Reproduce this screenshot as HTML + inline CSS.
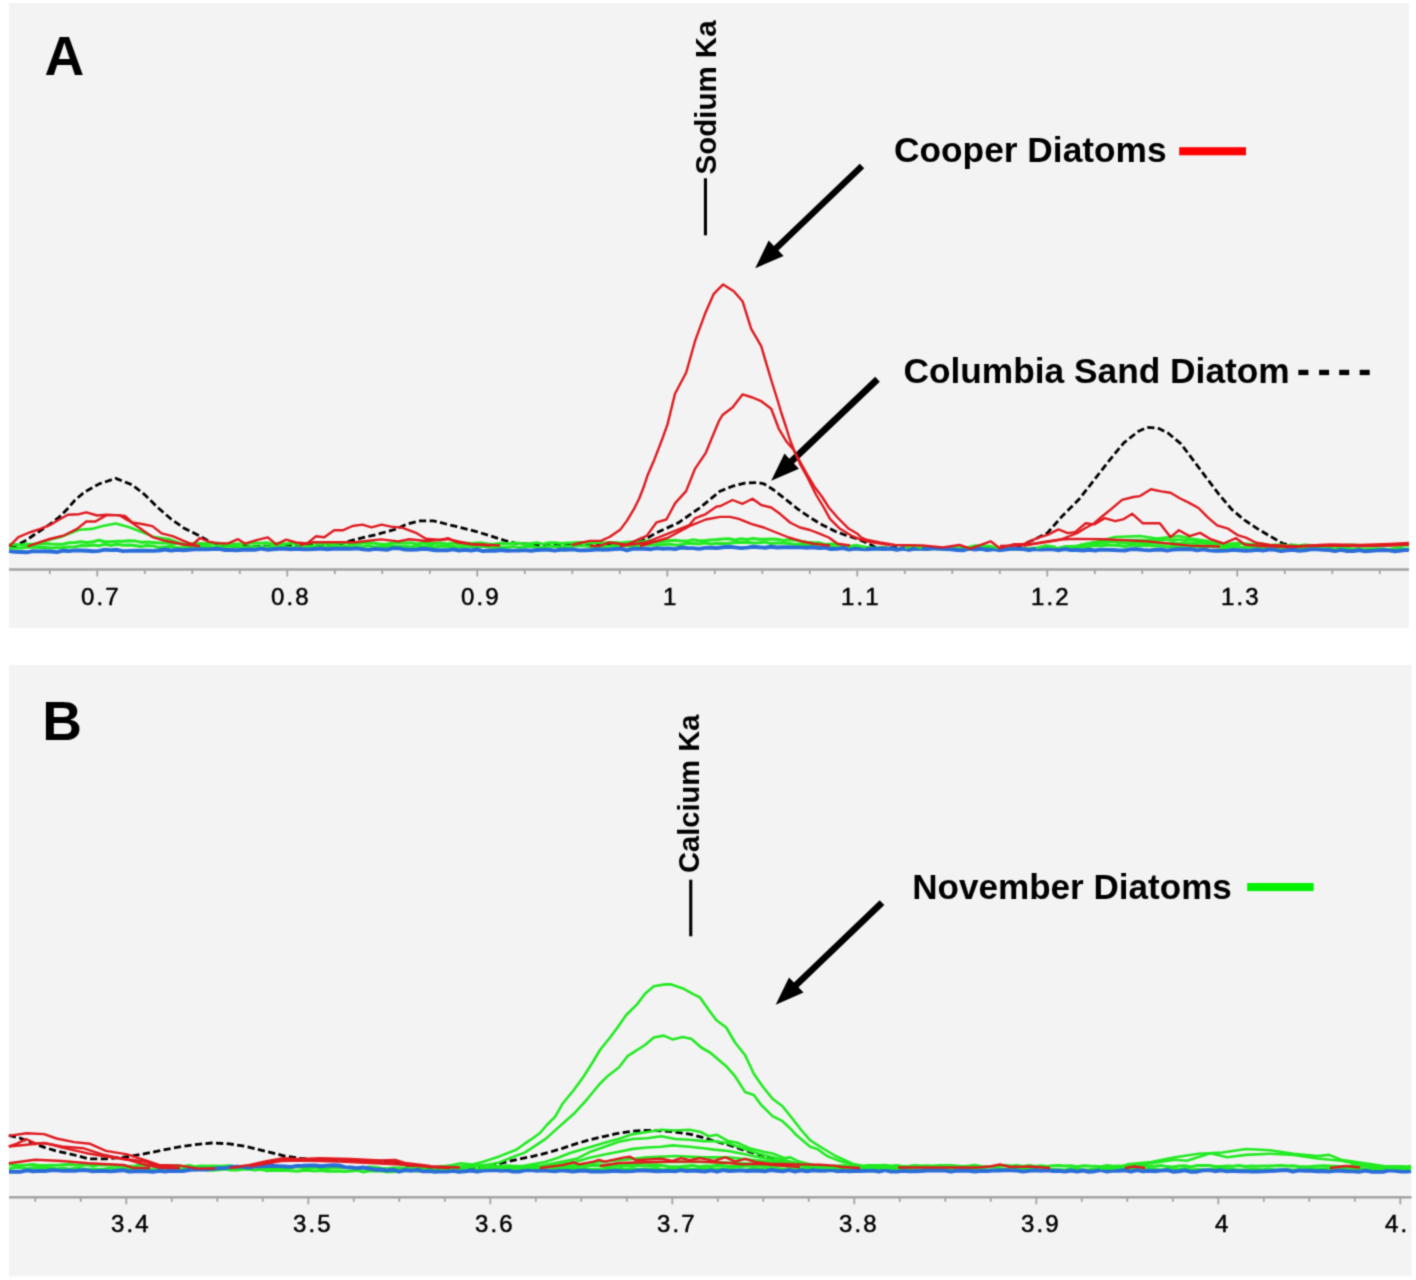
<!DOCTYPE html>
<html><head><meta charset="utf-8"><title>EDS spectra</title>
<style>
html,body{margin:0;padding:0;background:#fff;}
svg{display:block;}
text{font-family:"Liberation Sans",sans-serif;}
.tick{font-size:24px;fill:#000;letter-spacing:2px;stroke:#000;stroke-width:0.5px;}
.big{font-size:55px;font-weight:bold;fill:#000;}
.el{font-size:29.5px;font-weight:bold;fill:#000;}
.lg{font-size:35.3px;font-weight:bold;fill:#000;}
</style></head><body>
<svg width="1416" height="1280" viewBox="0 0 1416 1280">
<defs><filter id="bl" x="0" y="0" width="1416" height="1280" filterUnits="userSpaceOnUse" color-interpolation-filters="sRGB"><feConvolveMatrix order="3" kernelMatrix="0.0324 0.1152 0.0324 0.1152 0.4096 0.1152 0.0324 0.1152 0.0324" edgeMode="duplicate"/></filter><clipPath id="cb"><rect x="9" y="0" width="1401.3" height="1280"/></clipPath></defs>
<g filter="url(#bl)">
<rect x="0" y="0" width="1416" height="1280" fill="#fff"/>
<rect x="9" y="3" width="1400" height="625" fill="#f3f3f3"/>
<rect x="9" y="665" width="1402.5" height="611.3" fill="#f3f3f3"/>
<rect x="9.0" y="568.25" width="1400.0" height="2.5" fill="#a3a3a3"/>
<rect x="48.9" y="569.50" width="1.8" height="4.5" fill="#a3a3a3"/>
<rect x="96.4" y="569.50" width="1.8" height="7.0" fill="#a3a3a3"/>
<rect x="143.9" y="569.50" width="1.8" height="4.5" fill="#a3a3a3"/>
<rect x="191.4" y="569.50" width="1.8" height="4.5" fill="#a3a3a3"/>
<rect x="238.9" y="569.50" width="1.8" height="4.5" fill="#a3a3a3"/>
<rect x="286.4" y="569.50" width="1.8" height="7.0" fill="#a3a3a3"/>
<rect x="333.9" y="569.50" width="1.8" height="4.5" fill="#a3a3a3"/>
<rect x="381.4" y="569.50" width="1.8" height="4.5" fill="#a3a3a3"/>
<rect x="428.9" y="569.50" width="1.8" height="4.5" fill="#a3a3a3"/>
<rect x="476.4" y="569.50" width="1.8" height="7.0" fill="#a3a3a3"/>
<rect x="523.9" y="569.50" width="1.8" height="4.5" fill="#a3a3a3"/>
<rect x="571.4" y="569.50" width="1.8" height="4.5" fill="#a3a3a3"/>
<rect x="618.9" y="569.50" width="1.8" height="4.5" fill="#a3a3a3"/>
<rect x="666.4" y="569.50" width="1.8" height="7.0" fill="#a3a3a3"/>
<rect x="713.9" y="569.50" width="1.8" height="4.5" fill="#a3a3a3"/>
<rect x="761.4" y="569.50" width="1.8" height="4.5" fill="#a3a3a3"/>
<rect x="808.9" y="569.50" width="1.8" height="4.5" fill="#a3a3a3"/>
<rect x="856.4" y="569.50" width="1.8" height="7.0" fill="#a3a3a3"/>
<rect x="903.9" y="569.50" width="1.8" height="4.5" fill="#a3a3a3"/>
<rect x="951.4" y="569.50" width="1.8" height="4.5" fill="#a3a3a3"/>
<rect x="998.9" y="569.50" width="1.8" height="4.5" fill="#a3a3a3"/>
<rect x="1046.4" y="569.50" width="1.8" height="7.0" fill="#a3a3a3"/>
<rect x="1093.9" y="569.50" width="1.8" height="4.5" fill="#a3a3a3"/>
<rect x="1141.4" y="569.50" width="1.8" height="4.5" fill="#a3a3a3"/>
<rect x="1188.9" y="569.50" width="1.8" height="4.5" fill="#a3a3a3"/>
<rect x="1236.4" y="569.50" width="1.8" height="7.0" fill="#a3a3a3"/>
<rect x="1283.9" y="569.50" width="1.8" height="4.5" fill="#a3a3a3"/>
<rect x="1331.4" y="569.50" width="1.8" height="4.5" fill="#a3a3a3"/>
<rect x="1378.9" y="569.50" width="1.8" height="4.5" fill="#a3a3a3"/>
<text x="100.8" y="605.0" text-anchor="middle" class="tick" clip-path="url(#cb)">0.7</text>
<text x="290.8" y="605.0" text-anchor="middle" class="tick" clip-path="url(#cb)">0.8</text>
<text x="480.8" y="605.0" text-anchor="middle" class="tick" clip-path="url(#cb)">0.9</text>
<text x="670.8" y="605.0" text-anchor="middle" class="tick" clip-path="url(#cb)">1</text>
<text x="860.8" y="605.0" text-anchor="middle" class="tick" clip-path="url(#cb)">1.1</text>
<text x="1050.8" y="605.0" text-anchor="middle" class="tick" clip-path="url(#cb)">1.2</text>
<text x="1240.8" y="605.0" text-anchor="middle" class="tick" clip-path="url(#cb)">1.3</text>
<polygon points="859.8,163.7 773.9,245.9 768.7,240.5 755.2,268.3 783.6,256.0 778.4,250.6 864.2,168.3" fill="#000"/>
<polygon points="875.2,376.7 789.3,458.7 784.5,453.6 771.2,480.7 798.9,468.7 794.0,463.6 879.8,381.7" fill="#000"/>
<polyline points="10.0,547.0 17.0,545.2 25.4,540.7 33.9,535.0 42.0,529.5 50.8,523.7 59.3,517.0 67.8,508.5 75.1,500.0 84.5,492.1 99.2,483.9 115.7,478.4 132.2,484.8 145.0,494.9 157.9,507.7 170.8,518.8 183.6,527.9 198.3,535.3 211.2,542.6 220.3,545.4 240.0,546.5 290.0,546.0 338.4,544.4 355.4,539.4 376.6,534.5 394.7,529.5 407.5,524.0 420.4,520.8 433.2,520.8 446.1,524.0 460.8,527.6 475.5,531.3 490.2,535.9 504.9,540.5 515.9,543.3 540.0,545.0 620.0,545.0 641.2,541.4 656.6,532.7 678.4,522.8 700.3,507.5 720.0,491.2 732.5,486.2 745.0,483.1 757.5,482.5 763.8,483.8 773.8,490.0 785.0,498.8 797.5,508.8 810.0,517.5 822.5,525.0 835.0,531.2 845.0,535.0 857.5,538.8 866.0,542.5 876.0,547.5 1005.0,549.0 1015.0,548.0 1020.0,545.6 1032.7,540.3 1047.5,532.9 1062.4,515.9 1079.3,499.0 1094.2,479.9 1109.0,460.8 1123.8,442.8 1138.6,431.2 1147.1,427.4 1157.7,428.0 1168.3,433.3 1181.0,443.9 1193.7,460.8 1206.4,477.8 1219.2,494.7 1231.9,509.6 1244.6,520.2 1257.3,528.6 1270.0,536.1 1282.7,543.5 1293.3,545.6 1310.0,546.5" fill="none" stroke="#000" stroke-width="2.8" stroke-linejoin="round" stroke-dasharray="7.2 3.4"/>
<polyline points="9.0,544.4 15.0,544.5 21.0,545.1 27.0,544.3 33.0,544.3 39.0,544.3 45.0,543.6 51.0,544.1 57.0,544.2 63.0,544.2 69.0,542.7 75.0,542.6 81.0,541.8 87.0,542.5 93.0,541.8 99.0,540.3 105.0,541.8 111.0,541.7 117.0,541.2 123.0,541.2 129.0,540.7 135.0,540.9 141.0,542.2 147.0,541.9 153.0,542.5 159.0,543.0 165.0,542.7 171.0,543.4 177.0,543.4 183.0,544.0 189.0,543.5 195.0,543.7 201.0,543.5 207.0,543.8 213.0,543.4 219.0,543.1 225.0,544.3 231.0,544.3 237.0,544.0 243.0,543.8 249.0,543.2 255.0,543.1 261.0,543.2 267.0,542.8 273.0,543.9 279.0,543.3 285.0,544.1 291.0,543.3 297.0,544.2 303.0,544.1 309.0,542.7 315.0,543.0 321.0,544.2 327.0,543.5 333.0,544.3 339.0,543.3 345.0,542.8 351.0,543.7 357.0,543.9 363.0,543.1 369.0,542.8 375.0,543.2 381.0,544.2 387.0,543.9 393.0,542.9 399.0,543.1 405.0,542.9 411.0,542.8 417.0,544.0 423.0,543.0 429.0,543.6 435.0,543.4 441.0,543.0 447.0,543.9 453.0,542.9 459.0,543.7 465.0,542.9 471.0,543.4 477.0,543.0 483.0,543.1 489.0,544.3 495.0,544.0 501.0,543.2 507.0,544.1 513.0,543.0 519.0,543.2 525.0,543.9 531.0,543.6 537.0,542.7 543.0,544.1 549.0,542.8 555.0,542.8 561.0,543.6 567.0,542.9 573.0,542.8 579.0,542.4 585.0,542.4 591.0,543.2 597.0,542.6 603.0,543.1 609.0,542.5 615.0,542.5 621.0,543.1 627.0,542.2 633.0,542.1 639.0,542.4 645.0,541.1 651.0,540.9 657.0,541.9 663.0,541.6 669.0,540.5 675.0,540.3 681.0,541.0 687.0,541.1 693.0,539.7 699.0,540.8 705.0,540.5 711.0,539.9 717.0,539.5 723.0,538.9 729.0,538.7 735.0,540.0 741.0,538.8 747.0,539.4 753.0,538.6 759.0,539.3 765.0,539.2 771.0,539.1 777.0,539.2 783.0,540.4 789.0,539.7 795.0,540.3 801.0,541.2 807.0,542.3 813.0,542.6 819.0,542.7 825.0,544.4 831.0,543.9 837.0,544.3 843.0,545.4 849.0,546.3 855.0,546.1 861.0,546.7 867.0,547.4 873.0,548.1 879.0,547.8 885.0,548.3 891.0,549.1 897.0,549.3 903.0,548.8 909.0,548.8 915.0,548.6 921.0,547.9 927.0,547.8 933.0,547.7 939.0,549.2 945.0,548.8 951.0,549.2 957.0,547.7 963.0,548.7 969.0,548.5 975.0,548.9 981.0,548.2 987.0,549.3 993.0,547.8 999.0,548.6 1005.0,548.9 1011.0,549.1 1017.0,548.9 1023.0,548.8 1029.0,549.0 1035.0,549.2 1041.0,548.3 1047.0,548.8 1053.0,548.8 1059.0,548.0 1065.0,546.6 1071.0,546.5 1077.0,545.9 1083.0,544.7 1089.0,543.8 1095.0,542.6 1101.0,542.1 1107.0,542.3 1113.0,541.5 1119.0,542.5 1125.0,543.1 1131.0,543.1 1137.0,542.9 1143.0,542.4 1149.0,543.1 1155.0,542.9 1161.0,542.8 1167.0,543.5 1173.0,542.4 1179.0,543.5 1185.0,542.5 1191.0,543.5 1197.0,543.4 1203.0,543.0 1209.0,543.9 1215.0,543.6 1221.0,543.9 1227.0,544.5 1233.0,543.5 1239.0,543.2 1245.0,543.8 1251.0,544.6 1257.0,543.9 1263.0,544.0 1269.0,545.4 1275.0,545.1 1281.0,544.9 1287.0,545.8 1293.0,545.0 1299.0,545.7 1305.0,545.0 1311.0,545.4 1317.0,546.0 1323.0,546.2 1329.0,546.1 1335.0,545.3 1341.0,545.6 1347.0,545.2 1353.0,544.9 1359.0,545.5 1365.0,546.0 1371.0,546.1 1377.0,545.8 1383.0,546.2 1389.0,545.1 1395.0,545.0 1401.0,545.4 1407.0,545.1 1409.0,545.5" fill="none" stroke="#22ea22" stroke-width="3" stroke-linejoin="round"/>
<polyline points="9.0,548.0 15.0,548.2 21.0,548.1 27.0,547.3 33.0,547.0 39.0,547.5 45.0,547.3 51.0,548.1 57.0,547.8 63.0,547.5 69.0,547.0 75.0,546.8 81.0,545.6 87.0,545.7 93.0,544.9 99.0,545.7 105.0,544.3 111.0,545.5 117.0,544.3 123.0,545.3 129.0,545.0 135.0,545.4 141.0,546.5 147.0,545.5 153.0,545.9 159.0,547.6 165.0,547.0 171.0,546.3 177.0,547.7 183.0,547.7 189.0,546.3 195.0,546.8 201.0,546.3 207.0,546.6 213.0,547.1 219.0,546.3 225.0,547.2 231.0,546.1 237.0,546.3 243.0,547.3 249.0,546.7 255.0,546.7 261.0,546.9 267.0,546.7 273.0,546.6 279.0,546.0 285.0,547.1 291.0,547.5 297.0,547.5 303.0,547.0 309.0,546.5 315.0,546.5 321.0,547.0 327.0,546.9 333.0,546.0 339.0,546.2 345.0,546.4 351.0,546.6 357.0,547.1 363.0,546.6 369.0,545.8 375.0,547.1 381.0,546.4 387.0,546.6 393.0,546.1 399.0,546.4 405.0,546.3 411.0,547.0 417.0,545.9 423.0,546.7 429.0,546.1 435.0,547.0 441.0,546.0 447.0,546.4 453.0,546.5 459.0,547.0 465.0,546.1 471.0,546.8 477.0,546.4 483.0,546.6 489.0,546.9 495.0,547.7 501.0,547.0 507.0,547.7 513.0,546.4 519.0,547.6 525.0,546.7 531.0,546.3 537.0,547.2 543.0,547.4 549.0,546.0 555.0,546.4 561.0,547.1 567.0,546.4 573.0,546.2 579.0,545.8 585.0,545.8 591.0,546.7 597.0,547.3 603.0,547.2 609.0,546.2 615.0,545.3 621.0,545.6 627.0,546.1 633.0,546.0 639.0,545.6 645.0,544.7 651.0,545.0 657.0,544.8 663.0,544.8 669.0,544.1 675.0,545.0 681.0,544.7 687.0,543.3 693.0,543.4 699.0,544.1 705.0,543.1 711.0,544.0 717.0,543.2 723.0,543.4 729.0,543.3 735.0,542.5 741.0,542.5 747.0,542.3 753.0,542.9 759.0,542.8 765.0,542.1 771.0,543.5 777.0,543.0 783.0,542.9 789.0,543.5 795.0,544.6 801.0,544.2 807.0,544.8 813.0,545.8 819.0,546.4 825.0,546.7 831.0,546.7 837.0,547.5 843.0,548.5 849.0,548.9 855.0,548.6 861.0,548.3 867.0,548.3 873.0,548.9 879.0,548.7 885.0,547.8 891.0,548.9 897.0,549.3 903.0,549.1 909.0,549.3 915.0,549.3 921.0,548.7 927.0,549.2 933.0,548.5 939.0,548.1 945.0,548.5 951.0,548.5 957.0,549.5 963.0,549.1 969.0,548.9 975.0,549.0 981.0,548.2 987.0,548.9 993.0,549.2 999.0,548.7 1005.0,548.5 1011.0,548.8 1017.0,548.6 1023.0,549.2 1029.0,548.4 1035.0,548.3 1041.0,548.7 1047.0,549.3 1053.0,549.3 1059.0,548.8 1065.0,548.9 1071.0,547.7 1077.0,546.9 1083.0,547.2 1089.0,546.5 1095.0,545.5 1101.0,545.8 1107.0,545.3 1113.0,545.2 1119.0,545.4 1125.0,546.5 1131.0,545.0 1137.0,545.7 1143.0,545.6 1149.0,545.5 1155.0,546.0 1161.0,545.7 1167.0,546.9 1173.0,546.3 1179.0,546.7 1185.0,545.9 1191.0,546.4 1197.0,546.7 1203.0,547.2 1209.0,546.3 1215.0,546.7 1221.0,547.4 1227.0,547.4 1233.0,546.5 1239.0,547.1 1245.0,547.5 1251.0,547.1 1257.0,547.7 1263.0,547.8 1269.0,548.5 1275.0,548.0 1281.0,548.3 1287.0,547.9 1293.0,548.7 1299.0,548.2 1305.0,548.5 1311.0,548.3 1317.0,548.3 1323.0,548.0 1329.0,548.2 1335.0,548.7 1341.0,548.3 1347.0,548.0 1353.0,549.2 1359.0,548.4 1365.0,549.5 1371.0,549.0 1377.0,548.7 1383.0,549.5 1389.0,549.5 1395.0,548.6 1401.0,548.4 1407.0,549.2 1409.0,549.0" fill="none" stroke="#22ea22" stroke-width="3" stroke-linejoin="round"/>
<polyline points="9.0,551.1 15.0,551.9 21.0,552.0 27.0,552.3 33.0,551.2 39.0,551.4 45.0,551.3 51.0,551.5 57.0,552.1 63.0,550.7 69.0,551.1 75.0,550.4 81.0,550.5 87.0,550.7 93.0,551.3 99.0,550.9 105.0,549.7 111.0,550.1 117.0,549.8 123.0,551.1 129.0,550.9 135.0,550.8 141.0,550.8 147.0,550.6 153.0,550.9 159.0,550.5 165.0,549.5 171.0,550.5 177.0,549.7 183.0,550.2 189.0,549.7 195.0,549.4 201.0,549.3 207.0,549.4 213.0,549.1 219.0,548.8 225.0,550.0 231.0,550.0 237.0,550.3 243.0,549.7 249.0,549.5 255.0,549.8 261.0,548.7 267.0,549.7 273.0,549.2 279.0,548.7 285.0,548.8 291.0,549.3 297.0,548.8 303.0,549.2 309.0,549.4 315.0,549.0 321.0,548.5 327.0,549.2 333.0,548.7 339.0,548.7 345.0,548.6 351.0,548.9 357.0,548.3 363.0,549.4 369.0,549.9 375.0,548.9 381.0,549.4 387.0,549.8 393.0,548.2 399.0,548.4 405.0,549.6 411.0,549.8 417.0,549.5 423.0,548.7 429.0,549.3 435.0,550.2 441.0,550.3 447.0,550.3 453.0,549.3 459.0,550.5 465.0,549.7 471.0,550.5 477.0,549.5 483.0,551.1 489.0,550.5 495.0,550.8 501.0,550.0 507.0,550.7 513.0,550.6 519.0,550.6 525.0,550.1 531.0,550.8 537.0,550.0 543.0,549.9 549.0,549.7 555.0,550.6 561.0,549.5 567.0,549.7 573.0,549.4 579.0,550.4 585.0,550.2 591.0,550.1 597.0,549.2 603.0,549.8 609.0,549.5 615.0,549.0 621.0,548.7 627.0,550.4 633.0,548.7 639.0,548.9 645.0,548.7 651.0,549.2 657.0,548.1 663.0,548.7 669.0,548.4 675.0,549.1 681.0,547.5 687.0,548.0 693.0,548.1 699.0,548.9 705.0,547.9 711.0,547.8 717.0,548.0 723.0,547.3 729.0,546.7 735.0,547.4 741.0,548.1 747.0,547.6 753.0,546.7 759.0,547.3 765.0,547.7 771.0,546.8 777.0,547.5 783.0,547.3 789.0,547.2 795.0,547.4 801.0,547.4 807.0,547.8 813.0,547.3 819.0,548.1 825.0,547.7 831.0,549.0 837.0,548.9 843.0,548.0 849.0,549.5 855.0,548.5 861.0,549.0 867.0,549.2 873.0,548.8 879.0,548.7 885.0,549.0 891.0,548.5 897.0,549.8 903.0,548.5 909.0,549.8 915.0,548.7 921.0,548.9 927.0,549.1 933.0,548.4 939.0,548.6 945.0,549.1 951.0,549.2 957.0,550.0 963.0,550.3 969.0,548.6 975.0,549.5 981.0,548.8 987.0,550.0 993.0,549.2 999.0,550.2 1005.0,549.6 1011.0,548.9 1017.0,548.7 1023.0,549.1 1029.0,550.2 1035.0,549.0 1041.0,549.6 1047.0,549.4 1053.0,549.4 1059.0,550.2 1065.0,549.1 1071.0,550.1 1077.0,550.0 1083.0,550.5 1089.0,549.8 1095.0,550.5 1101.0,549.6 1107.0,549.9 1113.0,550.0 1119.0,550.4 1125.0,550.5 1131.0,549.1 1137.0,549.2 1143.0,549.9 1149.0,550.4 1155.0,549.9 1161.0,549.5 1167.0,550.7 1173.0,549.6 1179.0,549.2 1185.0,549.2 1191.0,549.1 1197.0,550.4 1203.0,549.3 1209.0,550.4 1215.0,550.7 1221.0,550.9 1227.0,550.6 1233.0,549.9 1239.0,550.3 1245.0,550.7 1251.0,550.5 1257.0,549.8 1263.0,550.6 1269.0,549.5 1275.0,549.8 1281.0,551.1 1287.0,550.2 1293.0,549.8 1299.0,550.7 1305.0,550.2 1311.0,549.4 1317.0,549.4 1323.0,549.9 1329.0,550.0 1335.0,551.1 1341.0,549.9 1347.0,551.0 1353.0,551.0 1359.0,550.2 1365.0,551.3 1371.0,550.9 1377.0,550.4 1383.0,550.0 1389.0,550.4 1395.0,551.2 1401.0,550.5 1407.0,549.9 1409.0,550.5" fill="none" stroke="#2a6cd8" stroke-width="3.9" stroke-linejoin="round"/>
<polyline points="27.5,546.3 45.9,540.8 60.6,537.1 79.0,529.8 91.8,528.9 102.8,526.1 115.7,523.4 128.5,527.0 143.2,532.5 154.2,537.1 168.9,539.0 183.6,544.5 200.0,545.5" fill="none" stroke="#22ea22" stroke-width="2.6" stroke-linejoin="round"/>
<polyline points="1080.0,545.0 1100.0,541.0 1115.0,537.0 1140.0,536.0 1157.0,538.5 1179.0,536.0 1190.8,538.5 1207.8,541.0 1220.5,544.4 1240.0,545.5" fill="none" stroke="#22ea22" stroke-width="2.6" stroke-linejoin="round"/>
<polyline points="1090.0,545.0 1120.0,540.0 1150.0,540.0 1180.0,539.5 1200.0,541.0 1230.0,545.0" fill="none" stroke="#22ea22" stroke-width="2.6" stroke-linejoin="round"/>
<polyline points="848.0,547.0 856.0,545.0 866.0,547.5" fill="none" stroke="#22ea22" stroke-width="2.6" stroke-linejoin="round"/>
<polyline points="905.0,548.0 913.0,545.5 922.0,548.0" fill="none" stroke="#22ea22" stroke-width="2.6" stroke-linejoin="round"/>
<polyline points="965.0,548.0 975.0,545.5 990.0,546.0 998.0,548.0" fill="none" stroke="#22ea22" stroke-width="2.6" stroke-linejoin="round"/>
<polyline points="1036.0,548.0 1046.0,545.5 1056.0,547.0" fill="none" stroke="#22ea22" stroke-width="2.6" stroke-linejoin="round"/>
<polyline points="9.2,546.3 18.4,537.1 29.4,532.5 40.4,528.9 51.4,524.3 60.6,518.8 67.9,514.7 79.0,514.2 86.3,512.3 97.3,515.5 106.5,514.7 115.7,515.1 124.9,516.0 132.2,522.4 143.2,524.3 152.4,526.1 161.6,533.4 172.6,536.2 183.6,540.8 192.8,544.5 200.0,538.0 208.5,541.6 218.4,543.4 228.2,543.4 238.1,539.2 245.2,543.7 256.5,540.1 267.8,537.3 276.3,544.4 286.2,539.7 296.0,542.5 307.3,543.4 315.8,536.3 324.3,537.3 334.2,530.3 342.7,530.3 352.5,526.0 362.4,524.6 371.6,527.4 381.5,524.6 391.0,526.7 402.0,527.6 416.7,533.2 425.9,538.7 440.6,540.0 447.9,538.1 457.1,542.3 471.8,544.2 490.0,545.5" fill="none" stroke="#e01a20" stroke-width="2.4" stroke-linejoin="round"/>
<polyline points="572.0,545.0 580.0,543.0 589.8,540.9 600.8,540.9 609.5,537.0 620.5,529.4 627.0,520.6 633.6,509.7 639.1,498.8 643.4,487.8 647.8,474.7 654.4,459.4 662.0,439.7 667.5,424.4 675.0,393.8 686.2,372.5 695.0,341.2 705.0,313.8 713.8,293.8 723.1,284.4 733.8,291.2 742.5,301.2 751.2,328.8 761.2,346.2 771.2,380.0 777.5,400.0 781.2,412.5 786.2,427.5 790.0,440.0 795.0,452.5 801.2,463.8 807.5,475.0 815.0,487.5 822.5,497.5 828.8,507.5 837.5,517.5 848.8,528.8 857.5,533.8 861.2,537.5 867.5,540.0 880.0,542.5 895.0,545.0 922.6,545.5 942.8,547.4 959.4,545.0 970.4,548.7 990.6,541.3 999.7,548.1 1014.4,544.1 1023.6,544.1 1038.3,537.6 1047.5,534.9 1058.5,529.4 1067.7,533.1 1075.0,532.1 1085.7,523.3 1094.2,524.4 1104.7,518.1 1115.3,521.2 1123.8,519.1 1132.3,513.8 1142.9,523.3 1159.8,523.3 1170.4,537.1 1178.9,530.3 1189.5,536.1 1200.1,532.9 1210.7,539.2 1223.4,543.5 1236.1,538.2 1244.6,544.5 1260.0,546.0 1290.0,547.0 1310.0,546.0 1330.0,545.5 1360.0,546.0 1390.0,545.5 1409.0,544.5" fill="none" stroke="#e01a20" stroke-width="2.4" stroke-linejoin="round"/>
<polyline points="590.0,546.0 599.7,545.8 609.5,542.5 627.0,544.7 639.1,539.2 646.7,535.9 656.6,522.3 666.4,519.5 675.2,503.1 686.1,491.1 694.8,469.2 705.8,452.8 713.4,434.2 718.9,421.1 722.5,415.0 732.5,407.5 742.5,394.4 752.5,397.5 761.2,401.2 771.2,408.8 778.8,428.8 786.2,441.2 793.8,450.0 800.0,463.8 807.5,477.5 816.2,495.0 823.8,507.5 830.0,518.8 840.0,528.8 852.5,536.2 858.8,538.8 870.0,542.0 890.0,545.0" fill="none" stroke="#e01a20" stroke-width="2.4" stroke-linejoin="round"/>
<polyline points="620.0,546.0 645.6,542.5 667.5,533.8 689.4,525.0 694.8,518.4 705.8,514.1 716.7,506.4 720.0,506.2 732.5,500.0 742.5,503.8 752.5,498.8 761.2,505.0 771.2,507.5 780.0,513.8 790.0,522.5 800.0,527.5 810.0,530.0 820.0,533.8 828.8,537.5 837.5,543.8 850.0,545.5" fill="none" stroke="#e01a20" stroke-width="2.4" stroke-linejoin="round"/>
<polyline points="640.0,546.0 667.5,538.0 689.4,526.1 705.8,519.5 720.0,516.9 730.0,516.9 738.8,518.8 751.2,523.8 763.8,527.5 776.2,532.5 788.8,537.5 801.2,541.2 813.8,543.8 830.0,545.5" fill="none" stroke="#e01a20" stroke-width="2.4" stroke-linejoin="round"/>
<polyline points="27.5,546.3 49.6,539.0 64.3,535.3 77.1,528.9 86.3,521.5 95.5,521.5 106.5,515.1 119.4,515.1 128.5,520.6 139.6,528.0 152.4,537.1 165.3,540.8 183.6,544.5 200.0,546.0" fill="none" stroke="#e01a20" stroke-width="2.4" stroke-linejoin="round"/>
<polyline points="300.0,545.0 313.0,542.3 355.4,542.3 380.8,539.4 398.4,541.4 409.4,539.2 425.9,541.0 447.9,539.2 470.0,544.0 500.0,545.5" fill="none" stroke="#e01a20" stroke-width="2.4" stroke-linejoin="round"/>
<polyline points="1000.0,546.0 1020.0,545.5 1040.0,543.0 1060.0,539.9 1068.5,536.5 1077.0,533.1 1085.4,528.0 1093.9,523.5 1102.4,516.2 1110.8,509.4 1122.1,499.8 1133.4,497.0 1140.0,496.1 1151.0,489.3 1161.2,491.4 1170.5,492.7 1179.8,498.2 1189.2,502.9 1198.5,508.0 1207.8,517.3 1217.1,525.3 1228.1,528.7 1237.5,535.1 1245.9,537.6 1256.1,542.7 1270.0,545.0 1300.0,546.5" fill="none" stroke="#e01a20" stroke-width="2.4" stroke-linejoin="round"/>
<polyline points="1023.6,545.9 1042.0,542.2 1060.3,539.5 1075.0,538.9 1104.7,539.2 1147.1,541.4 1189.5,545.6 1220.0,546.5" fill="none" stroke="#e01a20" stroke-width="2.4" stroke-linejoin="round"/>
<polyline points="1300.0,546.0 1330.0,544.5 1360.0,545.0 1390.0,544.0 1409.0,543.0" fill="none" stroke="#e01a20" stroke-width="2.4" stroke-linejoin="round"/>
<rect x="9.0" y="1196.05" width="1402.5" height="2.5" fill="#a3a3a3"/>
<rect x="34.4" y="1197.30" width="1.8" height="4.5" fill="#a3a3a3"/>
<rect x="79.9" y="1197.30" width="1.8" height="4.5" fill="#a3a3a3"/>
<rect x="125.4" y="1197.30" width="1.8" height="7.0" fill="#a3a3a3"/>
<rect x="170.9" y="1197.30" width="1.8" height="4.5" fill="#a3a3a3"/>
<rect x="216.4" y="1197.30" width="1.8" height="4.5" fill="#a3a3a3"/>
<rect x="261.9" y="1197.30" width="1.8" height="4.5" fill="#a3a3a3"/>
<rect x="307.4" y="1197.30" width="1.8" height="7.0" fill="#a3a3a3"/>
<rect x="352.9" y="1197.30" width="1.8" height="4.5" fill="#a3a3a3"/>
<rect x="398.4" y="1197.30" width="1.8" height="4.5" fill="#a3a3a3"/>
<rect x="443.9" y="1197.30" width="1.8" height="4.5" fill="#a3a3a3"/>
<rect x="489.4" y="1197.30" width="1.8" height="7.0" fill="#a3a3a3"/>
<rect x="534.9" y="1197.30" width="1.8" height="4.5" fill="#a3a3a3"/>
<rect x="580.4" y="1197.30" width="1.8" height="4.5" fill="#a3a3a3"/>
<rect x="625.9" y="1197.30" width="1.8" height="4.5" fill="#a3a3a3"/>
<rect x="671.4" y="1197.30" width="1.8" height="7.0" fill="#a3a3a3"/>
<rect x="716.9" y="1197.30" width="1.8" height="4.5" fill="#a3a3a3"/>
<rect x="762.4" y="1197.30" width="1.8" height="4.5" fill="#a3a3a3"/>
<rect x="807.9" y="1197.30" width="1.8" height="4.5" fill="#a3a3a3"/>
<rect x="853.4" y="1197.30" width="1.8" height="7.0" fill="#a3a3a3"/>
<rect x="898.9" y="1197.30" width="1.8" height="4.5" fill="#a3a3a3"/>
<rect x="944.4" y="1197.30" width="1.8" height="4.5" fill="#a3a3a3"/>
<rect x="989.9" y="1197.30" width="1.8" height="4.5" fill="#a3a3a3"/>
<rect x="1035.4" y="1197.30" width="1.8" height="7.0" fill="#a3a3a3"/>
<rect x="1080.9" y="1197.30" width="1.8" height="4.5" fill="#a3a3a3"/>
<rect x="1126.4" y="1197.30" width="1.8" height="4.5" fill="#a3a3a3"/>
<rect x="1171.9" y="1197.30" width="1.8" height="4.5" fill="#a3a3a3"/>
<rect x="1217.4" y="1197.30" width="1.8" height="7.0" fill="#a3a3a3"/>
<rect x="1262.9" y="1197.30" width="1.8" height="4.5" fill="#a3a3a3"/>
<rect x="1308.4" y="1197.30" width="1.8" height="4.5" fill="#a3a3a3"/>
<rect x="1353.9" y="1197.30" width="1.8" height="4.5" fill="#a3a3a3"/>
<rect x="1399.4" y="1197.30" width="1.8" height="7.0" fill="#a3a3a3"/>
<text x="130.8" y="1231.5" text-anchor="middle" class="tick" clip-path="url(#cb)">3.4</text>
<text x="312.8" y="1231.5" text-anchor="middle" class="tick" clip-path="url(#cb)">3.5</text>
<text x="494.8" y="1231.5" text-anchor="middle" class="tick" clip-path="url(#cb)">3.6</text>
<text x="676.8" y="1231.5" text-anchor="middle" class="tick" clip-path="url(#cb)">3.7</text>
<text x="858.8" y="1231.5" text-anchor="middle" class="tick" clip-path="url(#cb)">3.8</text>
<text x="1040.8" y="1231.5" text-anchor="middle" class="tick" clip-path="url(#cb)">3.9</text>
<text x="1222.8" y="1231.5" text-anchor="middle" class="tick" clip-path="url(#cb)">4</text>
<text x="1404.8" y="1231.5" text-anchor="middle" class="tick" clip-path="url(#cb)">4.1</text>
<polygon points="879.7,900.3 794.0,982.6 789.0,977.4 775.7,1004.7 803.5,992.5 798.5,987.3 884.3,905.1" fill="#000"/>
<polyline points="8.8,1135.5 19.8,1138.0 35.3,1144.0 45.2,1147.6 56.5,1151.0 66.7,1153.2 76.3,1155.5 88.3,1158.8 105.9,1158.8 123.6,1157.1 141.2,1154.4 158.9,1150.9 176.6,1147.4 194.2,1144.7 211.9,1143.0 229.5,1143.8 247.7,1146.8 265.3,1151.2 283.0,1155.6 300.6,1158.5 318.3,1160.0 360.0,1160.5 390.0,1161.5 405.0,1165.0 420.0,1168.0 472.2,1168.5 490.8,1165.8 508.0,1161.5 520.0,1158.9 530.6,1156.8 541.2,1154.3 551.8,1151.5 562.4,1148.3 576.5,1143.7 590.6,1139.5 604.7,1136.3 615.3,1133.8 633.0,1131.2 647.1,1130.3 661.2,1130.8 675.4,1132.0 689.5,1134.1 703.6,1137.6 714.1,1141.1 728.2,1144.7 742.4,1149.6 756.5,1153.8 773.4,1158.1 798.9,1164.4 820.0,1167.5" fill="none" stroke="#000" stroke-width="2.8" stroke-linejoin="round" stroke-dasharray="7.2 3.4"/>
<polyline points="9.0,1164.4 15.0,1165.2 21.0,1165.2 27.0,1165.0 33.0,1164.6 39.0,1165.6 45.0,1165.6 51.0,1165.2 57.0,1165.2 63.0,1164.8 69.0,1164.5 75.0,1165.1 81.0,1165.5 87.0,1164.7 93.0,1165.9 99.0,1165.1 105.0,1165.1 111.0,1164.9 117.0,1166.4 123.0,1166.1 129.0,1166.3 135.0,1165.9 141.0,1165.1 147.0,1165.6 153.0,1165.9 159.0,1165.3 165.0,1166.7 171.0,1165.8 177.0,1165.5 183.0,1166.6 189.0,1165.5 195.0,1166.8 201.0,1166.1 207.0,1166.3 213.0,1166.0 219.0,1166.3 225.0,1165.9 231.0,1165.7 237.0,1167.1 243.0,1166.2 249.0,1167.1 255.0,1166.3 261.0,1167.6 267.0,1167.6 273.0,1167.5 279.0,1167.6 285.0,1167.4 291.0,1167.7 297.0,1166.8 303.0,1167.5 309.0,1168.1 315.0,1167.2 321.0,1168.4 327.0,1168.5 333.0,1167.8 339.0,1167.7 345.0,1167.8 351.0,1167.7 357.0,1168.7 363.0,1167.7 369.0,1167.1 375.0,1167.2 381.0,1168.2 387.0,1168.7 393.0,1167.9 399.0,1167.9 405.0,1167.9 411.0,1168.0 417.0,1167.0 423.0,1167.5 429.0,1167.3 435.0,1167.2 441.0,1166.4 447.0,1166.2 453.0,1166.3 459.0,1167.1 465.0,1166.0 471.0,1166.3 477.0,1165.7 483.0,1165.3 489.0,1165.2 495.0,1166.4 501.0,1166.3 507.0,1165.7 513.0,1166.2 519.0,1166.2 525.0,1166.6 531.0,1166.6 537.0,1165.8 543.0,1166.7 549.0,1166.7 555.0,1166.1 561.0,1166.5 567.0,1165.9 573.0,1165.7 579.0,1165.5 585.0,1166.5 591.0,1165.4 597.0,1165.2 603.0,1166.4 609.0,1166.4 615.0,1165.9 621.0,1166.5 627.0,1165.2 633.0,1165.6 639.0,1165.6 645.0,1165.8 651.0,1165.4 657.0,1165.3 663.0,1165.7 669.0,1166.6 675.0,1166.7 681.0,1166.4 687.0,1165.9 693.0,1165.6 699.0,1166.7 705.0,1166.0 711.0,1166.3 717.0,1165.2 723.0,1165.5 729.0,1166.5 735.0,1166.5 741.0,1166.6 747.0,1166.1 753.0,1165.9 759.0,1166.1 765.0,1166.6 771.0,1165.7 777.0,1166.1 783.0,1165.6 789.0,1166.4 795.0,1165.2 801.0,1166.3 807.0,1166.7 813.0,1165.2 819.0,1166.2 825.0,1166.2 831.0,1166.6 837.0,1166.1 843.0,1165.6 849.0,1165.9 855.0,1166.8 861.0,1166.7 867.0,1165.4 873.0,1165.4 879.0,1165.4 885.0,1165.3 891.0,1165.9 897.0,1165.5 903.0,1166.6 909.0,1166.3 915.0,1165.4 921.0,1166.1 927.0,1165.8 933.0,1166.0 939.0,1165.6 945.0,1165.5 951.0,1165.5 957.0,1165.9 963.0,1166.4 969.0,1166.1 975.0,1165.3 981.0,1166.4 987.0,1166.7 993.0,1166.5 999.0,1166.5 1005.0,1165.3 1011.0,1166.0 1017.0,1165.4 1023.0,1166.5 1029.0,1165.6 1035.0,1166.4 1041.0,1165.7 1047.0,1166.4 1053.0,1165.8 1059.0,1165.4 1065.0,1165.9 1071.0,1165.8 1077.0,1166.7 1083.0,1165.8 1089.0,1166.1 1095.0,1166.2 1101.0,1166.8 1107.0,1165.5 1113.0,1166.3 1119.0,1166.1 1125.0,1166.5 1131.0,1166.9 1137.0,1165.8 1143.0,1166.4 1149.0,1166.2 1155.0,1166.2 1161.0,1165.4 1167.0,1166.6 1173.0,1166.9 1179.0,1165.9 1185.0,1165.8 1191.0,1166.9 1197.0,1165.5 1203.0,1165.5 1209.0,1165.5 1215.0,1166.6 1221.0,1166.6 1227.0,1166.1 1233.0,1166.3 1239.0,1165.4 1245.0,1166.4 1251.0,1166.1 1257.0,1166.2 1263.0,1166.0 1269.0,1166.0 1275.0,1165.7 1281.0,1165.4 1287.0,1166.1 1293.0,1165.8 1299.0,1166.5 1305.0,1166.7 1311.0,1166.5 1317.0,1166.1 1323.0,1165.7 1329.0,1166.0 1335.0,1166.2 1341.0,1166.4 1347.0,1166.9 1353.0,1165.5 1359.0,1166.2 1365.0,1166.2 1371.0,1166.5 1377.0,1166.8 1383.0,1166.6 1389.0,1166.4 1395.0,1166.6 1401.0,1166.5 1407.0,1166.8 1411.0,1166.2" fill="none" stroke="#22ea22" stroke-width="3" stroke-linejoin="round"/>
<polyline points="9.0,1168.8 15.0,1167.6 21.0,1167.4 27.0,1169.0 33.0,1167.8 39.0,1167.7 45.0,1168.6 51.0,1168.1 57.0,1169.0 63.0,1168.0 69.0,1169.2 75.0,1168.3 81.0,1168.8 87.0,1169.3 93.0,1169.0 99.0,1169.4 105.0,1169.1 111.0,1168.1 117.0,1169.4 123.0,1169.0 129.0,1168.6 135.0,1168.5 141.0,1169.6 147.0,1169.2 153.0,1169.8 159.0,1169.6 165.0,1169.9 171.0,1169.3 177.0,1169.6 183.0,1169.5 189.0,1168.9 195.0,1170.1 201.0,1169.1 207.0,1169.9 213.0,1170.2 219.0,1169.8 225.0,1169.0 231.0,1170.1 237.0,1170.0 243.0,1169.3 249.0,1169.2 255.0,1170.0 261.0,1169.3 267.0,1170.8 273.0,1170.3 279.0,1170.4 285.0,1170.3 291.0,1170.8 297.0,1171.3 303.0,1170.4 309.0,1170.6 315.0,1171.0 321.0,1170.6 327.0,1171.2 333.0,1171.2 339.0,1171.0 345.0,1171.4 351.0,1171.1 357.0,1170.4 363.0,1171.9 369.0,1170.9 375.0,1171.0 381.0,1170.9 387.0,1171.8 393.0,1171.8 399.0,1171.1 405.0,1170.8 411.0,1170.2 417.0,1171.3 423.0,1170.0 429.0,1170.4 435.0,1170.0 441.0,1169.8 447.0,1169.7 453.0,1169.3 459.0,1168.9 465.0,1169.5 471.0,1169.8 477.0,1169.4 483.0,1168.6 489.0,1169.4 495.0,1168.4 501.0,1169.0 507.0,1169.6 513.0,1169.8 519.0,1169.0 525.0,1169.7 531.0,1169.1 537.0,1169.2 543.0,1169.3 549.0,1169.9 555.0,1169.5 561.0,1169.1 567.0,1169.5 573.0,1169.4 579.0,1168.9 585.0,1169.6 591.0,1169.6 597.0,1169.3 603.0,1169.8 609.0,1168.4 615.0,1169.1 621.0,1169.4 627.0,1168.9 633.0,1168.6 639.0,1169.5 645.0,1169.0 651.0,1168.8 657.0,1168.4 663.0,1169.9 669.0,1168.9 675.0,1168.6 681.0,1168.7 687.0,1168.8 693.0,1169.8 699.0,1168.7 705.0,1168.8 711.0,1168.5 717.0,1169.1 723.0,1168.7 729.0,1168.9 735.0,1169.6 741.0,1169.9 747.0,1169.7 753.0,1168.4 759.0,1169.0 765.0,1169.8 771.0,1168.4 777.0,1168.7 783.0,1169.2 789.0,1169.0 795.0,1169.6 801.0,1169.6 807.0,1169.1 813.0,1168.8 819.0,1168.8 825.0,1168.8 831.0,1168.5 837.0,1169.5 843.0,1168.7 849.0,1169.8 855.0,1169.5 861.0,1168.5 867.0,1169.2 873.0,1169.4 879.0,1168.5 885.0,1169.2 891.0,1168.5 897.0,1169.7 903.0,1168.4 909.0,1169.4 915.0,1170.0 921.0,1169.8 927.0,1168.8 933.0,1169.3 939.0,1168.7 945.0,1169.0 951.0,1169.8 957.0,1169.8 963.0,1168.5 969.0,1169.1 975.0,1169.5 981.0,1168.7 987.0,1169.7 993.0,1169.9 999.0,1169.3 1005.0,1169.0 1011.0,1169.8 1017.0,1169.3 1023.0,1168.8 1029.0,1168.9 1035.0,1168.7 1041.0,1169.8 1047.0,1169.3 1053.0,1169.6 1059.0,1169.8 1065.0,1170.0 1071.0,1168.8 1077.0,1169.1 1083.0,1169.9 1089.0,1169.7 1095.0,1169.1 1101.0,1169.5 1107.0,1168.8 1113.0,1168.8 1119.0,1168.6 1125.0,1169.1 1131.0,1168.9 1137.0,1169.3 1143.0,1170.1 1149.0,1168.8 1155.0,1169.4 1161.0,1169.9 1167.0,1169.5 1173.0,1169.4 1179.0,1169.8 1185.0,1168.6 1191.0,1170.0 1197.0,1169.6 1203.0,1169.8 1209.0,1169.9 1215.0,1168.7 1221.0,1168.6 1227.0,1168.8 1233.0,1169.4 1239.0,1170.0 1245.0,1170.0 1251.0,1169.2 1257.0,1169.5 1263.0,1169.7 1269.0,1169.1 1275.0,1170.1 1281.0,1170.1 1287.0,1169.7 1293.0,1170.0 1299.0,1169.8 1305.0,1169.6 1311.0,1169.1 1317.0,1169.0 1323.0,1169.0 1329.0,1168.7 1335.0,1170.1 1341.0,1169.1 1347.0,1168.6 1353.0,1169.1 1359.0,1168.7 1365.0,1169.3 1371.0,1169.1 1377.0,1168.9 1383.0,1169.4 1389.0,1169.3 1395.0,1169.2 1401.0,1169.9 1407.0,1169.1 1411.0,1169.4" fill="none" stroke="#22ea22" stroke-width="3" stroke-linejoin="round"/>
<polyline points="9.0,1171.8 15.0,1171.8 21.0,1171.7 27.0,1170.3 33.0,1171.2 39.0,1170.9 45.0,1171.1 51.0,1170.3 57.0,1170.4 63.0,1170.9 69.0,1170.5 75.0,1170.9 81.0,1170.1 87.0,1170.3 93.0,1171.4 99.0,1170.9 105.0,1171.0 111.0,1171.4 117.0,1170.7 123.0,1170.2 129.0,1171.5 135.0,1171.2 141.0,1171.3 147.0,1171.2 153.0,1171.8 159.0,1170.8 165.0,1171.5 171.0,1170.8 177.0,1171.1 183.0,1171.1 189.0,1170.0 195.0,1169.2 201.0,1169.5 207.0,1169.5 213.0,1168.9 219.0,1168.2 225.0,1168.1 231.0,1166.9 237.0,1166.8 243.0,1166.9 249.0,1167.7 255.0,1166.5 261.0,1166.2 267.0,1166.0 273.0,1165.8 279.0,1166.1 285.0,1166.5 291.0,1166.9 297.0,1165.9 303.0,1165.8 309.0,1165.5 315.0,1165.4 321.0,1166.2 327.0,1165.6 333.0,1165.3 339.0,1165.5 345.0,1167.1 351.0,1167.5 357.0,1168.1 363.0,1167.5 369.0,1168.5 375.0,1169.7 381.0,1169.5 387.0,1170.6 393.0,1169.7 399.0,1171.6 405.0,1170.0 411.0,1170.7 417.0,1169.9 423.0,1171.4 429.0,1171.1 435.0,1171.7 441.0,1171.4 447.0,1171.6 453.0,1170.9 459.0,1171.7 465.0,1171.3 471.0,1170.5 477.0,1171.7 483.0,1170.6 489.0,1170.3 495.0,1170.1 501.0,1170.8 507.0,1170.3 513.0,1171.6 519.0,1171.6 525.0,1170.3 531.0,1170.1 537.0,1170.9 543.0,1170.2 549.0,1170.9 555.0,1171.4 561.0,1170.4 567.0,1170.7 573.0,1171.6 579.0,1170.7 585.0,1170.6 591.0,1171.5 597.0,1171.4 603.0,1171.6 609.0,1171.2 615.0,1170.7 621.0,1171.2 627.0,1171.4 633.0,1171.1 639.0,1170.4 645.0,1170.5 651.0,1170.7 657.0,1171.3 663.0,1171.0 669.0,1170.9 675.0,1171.4 681.0,1170.2 687.0,1171.1 693.0,1170.6 699.0,1171.0 705.0,1171.5 711.0,1170.4 717.0,1171.7 723.0,1170.1 729.0,1171.0 735.0,1170.9 741.0,1170.4 747.0,1171.0 753.0,1170.8 759.0,1170.8 765.0,1171.3 771.0,1170.0 777.0,1170.7 783.0,1171.4 789.0,1170.2 795.0,1171.5 801.0,1170.3 807.0,1171.2 813.0,1170.3 819.0,1170.8 825.0,1170.7 831.0,1170.1 837.0,1171.2 843.0,1170.9 849.0,1171.2 855.0,1171.0 861.0,1171.0 867.0,1170.9 873.0,1170.5 879.0,1171.6 885.0,1170.2 891.0,1171.6 897.0,1171.6 903.0,1170.9 909.0,1171.4 915.0,1171.2 921.0,1171.1 927.0,1170.5 933.0,1170.6 939.0,1170.6 945.0,1170.6 951.0,1171.7 957.0,1170.6 963.0,1170.7 969.0,1170.8 975.0,1171.5 981.0,1170.9 987.0,1171.0 993.0,1170.5 999.0,1170.5 1005.0,1170.2 1011.0,1170.4 1017.0,1170.5 1023.0,1171.6 1029.0,1170.9 1035.0,1170.2 1041.0,1170.9 1047.0,1170.2 1053.0,1171.0 1059.0,1170.8 1065.0,1171.6 1071.0,1170.5 1077.0,1171.6 1083.0,1170.5 1089.0,1171.8 1095.0,1171.2 1101.0,1170.1 1107.0,1171.5 1113.0,1170.5 1119.0,1170.7 1125.0,1170.3 1131.0,1171.6 1137.0,1170.2 1143.0,1171.4 1149.0,1170.8 1155.0,1171.3 1161.0,1170.6 1167.0,1170.2 1173.0,1171.7 1179.0,1171.2 1185.0,1170.4 1191.0,1171.8 1197.0,1171.7 1203.0,1170.4 1209.0,1170.1 1215.0,1171.2 1221.0,1170.3 1227.0,1171.4 1233.0,1170.9 1239.0,1171.3 1245.0,1171.1 1251.0,1171.5 1257.0,1171.5 1263.0,1171.2 1269.0,1171.1 1275.0,1170.7 1281.0,1170.3 1287.0,1170.2 1293.0,1171.6 1299.0,1170.4 1305.0,1170.8 1311.0,1170.7 1317.0,1171.2 1323.0,1171.0 1329.0,1171.6 1335.0,1170.9 1341.0,1170.7 1347.0,1171.3 1353.0,1171.4 1359.0,1171.8 1365.0,1170.7 1371.0,1171.7 1377.0,1171.9 1383.0,1171.9 1389.0,1170.3 1395.0,1170.8 1401.0,1171.5 1407.0,1171.6 1411.0,1171.0" fill="none" stroke="#2a6cd8" stroke-width="3.9" stroke-linejoin="round"/>
<polyline points="440.0,1167.5 461.2,1163.2 472.2,1164.5 482.4,1162.0 499.3,1156.4 516.3,1149.7 524.7,1143.7 533.2,1138.0 540.0,1133.0 546.8,1125.0 555.0,1116.9 562.5,1103.8 573.8,1090.0 583.8,1076.2 592.5,1062.5 600.0,1050.0 610.0,1037.5 617.5,1027.5 626.2,1015.0 637.5,1003.8 645.0,993.8 653.8,986.2 665.0,984.4 671.2,984.4 683.8,988.8 693.8,994.4 700.0,997.5 708.8,1010.0 716.2,1020.0 726.2,1027.5 735.0,1042.5 745.0,1055.0 753.8,1073.8 762.5,1086.2 772.5,1098.8 782.5,1106.2 792.5,1118.8 801.2,1130.0 810.2,1140.4 821.5,1147.5 835.6,1156.0 852.5,1163.7 869.5,1167.3 900.0,1168.0" fill="none" stroke="#22ea22" stroke-width="2.6" stroke-linejoin="round"/>
<polyline points="440.0,1168.5 470.0,1167.0 482.4,1165.8 499.3,1162.4 512.0,1157.3 524.7,1152.6 533.2,1147.1 545.9,1138.6 556.2,1129.4 573.8,1113.8 587.5,1098.8 598.8,1085.0 607.5,1076.2 618.8,1067.5 627.5,1056.2 645.0,1045.0 653.8,1037.5 663.8,1035.6 672.5,1039.4 682.5,1036.9 691.2,1038.8 701.2,1047.5 710.0,1052.5 726.2,1066.2 735.0,1076.2 745.0,1091.9 753.8,1095.0 761.2,1105.0 772.5,1116.2 782.5,1121.2 791.2,1129.4 796.0,1134.8 810.2,1146.8 817.2,1148.9 827.1,1156.0 841.2,1161.6 855.4,1165.1 869.5,1167.3 890.0,1168.0" fill="none" stroke="#22ea22" stroke-width="2.6" stroke-linejoin="round"/>
<polyline points="480.0,1168.0 520.0,1166.5 545.0,1162.0 558.8,1157.5 569.4,1153.2 583.6,1149.0 590.6,1146.9 604.7,1142.7 620.0,1138.4 633.0,1134.1 647.1,1132.0 661.2,1129.8 675.4,1130.5 689.5,1129.8 700.8,1132.0 708.5,1136.2 717.0,1134.8 728.2,1141.1 736.7,1142.5 749.4,1148.2 763.6,1151.7 773.4,1153.8 784.7,1158.1 790.4,1157.4 798.9,1161.6 813.0,1165.1 827.1,1167.3 850.0,1168.0" fill="none" stroke="#22ea22" stroke-width="2.6" stroke-linejoin="round"/>
<polyline points="500.0,1168.0 540.0,1166.0 576.5,1158.8 590.6,1151.7 604.7,1146.8 618.9,1141.8 633.0,1139.0 647.1,1138.3 661.2,1136.2 675.4,1139.0 689.5,1139.7 703.6,1141.1 714.1,1141.1 728.2,1143.2 742.4,1148.2 756.5,1153.1 770.6,1156.7 784.7,1160.2 798.9,1163.7 820.0,1167.0 840.0,1168.0" fill="none" stroke="#22ea22" stroke-width="2.6" stroke-linejoin="round"/>
<polyline points="520.0,1168.0 550.0,1166.0 576.5,1161.6 590.6,1157.4 604.7,1154.5 618.9,1151.7 633.0,1148.9 647.1,1147.5 661.2,1146.8 672.5,1145.4 689.5,1146.8 703.6,1148.2 714.1,1149.6 728.2,1151.0 742.4,1153.8 756.5,1156.7 770.6,1159.5 784.7,1162.3 798.9,1165.1 820.0,1167.5" fill="none" stroke="#22ea22" stroke-width="2.6" stroke-linejoin="round"/>
<polyline points="530.0,1168.0 555.3,1167.3 590.6,1163.0 618.9,1160.2 647.1,1157.4 675.4,1156.0 703.6,1157.4 728.2,1157.4 756.5,1160.2 784.7,1163.0 813.0,1165.8 830.0,1167.5" fill="none" stroke="#22ea22" stroke-width="2.6" stroke-linejoin="round"/>
<polyline points="560.0,1168.0 590.6,1165.8 633.0,1163.0 675.4,1161.6 720.0,1162.3 760.0,1164.0 800.0,1166.5" fill="none" stroke="#22ea22" stroke-width="2.6" stroke-linejoin="round"/>
<polyline points="1100.0,1168.5 1115.6,1168.0 1127.5,1164.4 1151.2,1162.0 1174.9,1157.3 1198.7,1153.7 1222.4,1152.5 1246.1,1149.0 1269.8,1150.2 1293.6,1153.7 1317.3,1156.1 1329.2,1154.9 1341.0,1159.7 1364.8,1163.2 1388.5,1166.8 1411.0,1168.0" fill="none" stroke="#22ea22" stroke-width="2.6" stroke-linejoin="round"/>
<polyline points="1110.0,1168.5 1127.5,1165.6 1151.2,1163.2 1174.9,1159.7 1186.8,1160.8 1210.5,1153.3 1227.1,1157.3 1246.1,1154.9 1269.8,1153.7 1293.6,1154.9 1317.3,1158.5 1341.0,1160.8 1364.8,1165.6 1388.5,1168.0 1411.0,1168.5" fill="none" stroke="#22ea22" stroke-width="2.6" stroke-linejoin="round"/>
<polyline points="8.8,1135.9 26.5,1133.2 44.1,1134.1 56.5,1138.5 74.2,1142.1 90.0,1143.8 105.9,1150.9 127.1,1154.4 146.5,1160.6 158.9,1165.0 180.1,1165.6 197.7,1168.6 215.0,1168.5" fill="none" stroke="#e01a20" stroke-width="2.4" stroke-linejoin="round"/>
<polyline points="8.8,1146.5 17.0,1143.6 26.0,1139.1 35.0,1143.1 44.1,1143.4 52.5,1144.8 62.1,1147.6 80.0,1151.6 88.3,1153.5 109.5,1157.1 127.1,1159.7 146.5,1165.0 158.9,1167.7 180.0,1168.0" fill="none" stroke="#e01a20" stroke-width="2.4" stroke-linejoin="round"/>
<polyline points="8.8,1146.5 44.1,1143.0 61.8,1146.5 83.0,1148.2 102.4,1154.4 123.6,1158.8 144.8,1161.5 158.9,1166.3 175.0,1167.5" fill="none" stroke="#e01a20" stroke-width="2.4" stroke-linejoin="round"/>
<polyline points="8.8,1163.3 35.3,1159.7 61.8,1161.0 88.3,1163.3 123.6,1165.0 132.4,1167.7 150.0,1168.0" fill="none" stroke="#e01a20" stroke-width="2.4" stroke-linejoin="round"/>
<polyline points="230.0,1168.0 247.7,1165.3 265.3,1161.4 283.0,1158.2 300.6,1159.1 318.3,1159.1 335.9,1159.1 353.6,1160.9 371.2,1161.8 385.4,1162.7 397.7,1161.4 406.6,1165.3 424.2,1166.2 433.0,1167.4 450.0,1168.0" fill="none" stroke="#e01a20" stroke-width="2.4" stroke-linejoin="round"/>
<polyline points="260.0,1164.0 290.0,1159.5 320.0,1158.2 350.0,1159.0 380.0,1160.5 395.0,1160.0 405.0,1163.0 430.0,1166.0" fill="none" stroke="#e01a20" stroke-width="2.4" stroke-linejoin="round"/>
<polyline points="250.0,1166.5 280.0,1161.0 300.0,1160.5 340.0,1161.5 380.0,1163.5 400.0,1164.5 420.0,1166.0 460.0,1167.5" fill="none" stroke="#e01a20" stroke-width="2.4" stroke-linejoin="round"/>
<polyline points="540.0,1168.0 562.4,1165.1 573.7,1162.3 579.3,1164.4 593.4,1161.6 599.1,1159.9 604.7,1161.6 624.5,1157.4 630.2,1156.7 635.8,1160.2 647.1,1159.5 661.2,1158.8 672.5,1160.9 681.0,1158.1 689.5,1160.2 700.0,1158.1 714.1,1160.9 725.4,1157.4 735.3,1161.6 745.2,1158.8 756.5,1162.3 770.6,1163.7 798.9,1164.4 820.0,1164.7 834.2,1165.6 841.2,1167.0 860.0,1168.0" fill="none" stroke="#e01a20" stroke-width="2.4" stroke-linejoin="round"/>
<polyline points="600.0,1166.0 618.9,1163.0 647.1,1162.3 675.4,1161.6 700.0,1161.6 728.2,1163.0 742.4,1164.4 756.5,1163.7 780.0,1165.5 800.0,1167.0" fill="none" stroke="#e01a20" stroke-width="2.4" stroke-linejoin="round"/>
<polyline points="898.0,1167.5 940.0,1167.5 977.0,1167.5 990.0,1166.5 1000.0,1164.5 1010.0,1167.0 1030.0,1166.5 1050.0,1168.0" fill="none" stroke="#e01a20" stroke-width="2.4" stroke-linejoin="round"/>
<polyline points="1125.0,1168.0 1134.6,1166.5 1145.0,1168.0" fill="none" stroke="#e01a20" stroke-width="2.4" stroke-linejoin="round"/>
<polyline points="1330.0,1168.0 1345.8,1166.0 1360.0,1167.5" fill="none" stroke="#e01a20" stroke-width="2.4" stroke-linejoin="round"/>
<text x="44.5" y="75" class="big">A</text>
<text x="42.3" y="739.5" class="big">B</text>
<text transform="translate(716,174.5) rotate(-90)" class="el">Sodium Ka</text>
<rect x="703.9" y="178.3" width="3.1" height="57" fill="#000"/>
<text transform="translate(699.4,873) rotate(-90)" class="el" style="font-size:29.1px">Calcium Ka</text>
<rect x="689.2" y="879.7" width="3.1" height="56.6" fill="#000"/>
<text x="894" y="162.4" class="lg">Cooper Diatoms</text>
<rect x="1179.2" y="147.2" width="66.8" height="8.1" fill="#f00"/>
<text x="903.4" y="383" class="lg">Columbia Sand Diatom</text>
<rect x="1298.4" y="369.8" width="10" height="5.3" fill="#000"/>
<rect x="1319.1" y="369.8" width="10" height="5.3" fill="#000"/>
<rect x="1339.2" y="369.8" width="10" height="5.3" fill="#000"/>
<rect x="1359.7" y="369.8" width="10" height="5.3" fill="#000"/>
<text x="912.2" y="898.6" class="lg" style="font-size:35.1px">November Diatoms</text>
<rect x="1247.2" y="883" width="66.4" height="8.1" fill="#00f000"/>
</g>
</svg>
</body></html>
